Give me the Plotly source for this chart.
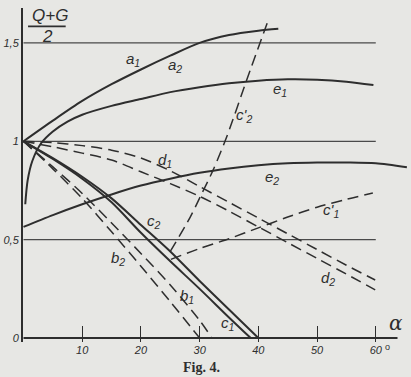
import plotly.graph_objects as go

# ---------------- data (alpha in degrees, value (Q+G)/2) ----------------
a_x = [0, 5, 10, 15, 20, 25, 30, 35, 40, 43.4]
a_y = [1.0, 1.105, 1.205, 1.29, 1.365, 1.435, 1.5, 1.54, 1.562, 1.572]

e1_x = [0.3, 0.7, 1.5, 3, 5, 7.5, 10, 15, 20, 25, 30, 35, 40, 45, 50, 55, 59.6]
e1_y = [0.68, 0.8, 0.9, 0.99, 1.05, 1.1, 1.135, 1.18, 1.215, 1.25, 1.275, 1.295, 1.308, 1.315, 1.313, 1.303, 1.286]

e2_x = [0, 5, 10, 15, 20, 25, 30, 35, 40, 45, 50, 55, 60, 65.3]
e2_y = [0.565, 0.625, 0.68, 0.73, 0.775, 0.81, 0.84, 0.862, 0.878, 0.888, 0.892, 0.892, 0.888, 0.868]

c1_x = [0, 5, 10, 15, 20, 25, 30, 35, 38.7]
c1_y = [1.0, 0.91, 0.81, 0.69, 0.535, 0.39, 0.25, 0.105, 0.0]

c2_x = [0, 5, 10, 15, 20, 25, 30, 35, 40]
c2_y = [1.0, 0.915, 0.82, 0.71, 0.575, 0.44, 0.29, 0.145, 0.0]

b1_x = [0, 5, 10, 15, 20, 25, 30, 32.1]
b1_y = [1.0, 0.87, 0.735, 0.585, 0.43, 0.27, 0.09, 0.0]

b2_x = [0, 5, 10, 15, 20, 25, 30]
b2_y = [1.0, 0.86, 0.71, 0.54, 0.365, 0.185, 0.0]

d1_x = [0, 5, 10, 15, 20, 25, 30, 35, 40, 45, 50, 55, 59.9]
d1_y = [1.0, 0.993, 0.978, 0.955, 0.915, 0.85, 0.77, 0.69, 0.61, 0.53, 0.45, 0.37, 0.295]

d2_x = [0, 5, 10, 15, 20, 25, 30, 35, 40, 45, 50, 55, 59.9]
d2_y = [1.0, 0.972, 0.94, 0.905, 0.845, 0.785, 0.72, 0.645, 0.565, 0.485, 0.405, 0.325, 0.245]

c1p_x = [25.1, 30, 35, 40, 45, 50, 55, 59.5]
c1p_y = [0.40, 0.455, 0.505, 0.56, 0.615, 0.665, 0.705, 0.737]

c2p_x = [25.0, 28.4, 30.1, 32.3, 34.7, 38.0, 41.5]
c2p_y = [0.44, 0.615, 0.718, 0.854, 1.03, 1.31, 1.60]

grid_vals = [0.5, 1.0, 1.5]
grid_end = 60
axis_end = 63.7

x_ticks = [10, 20, 30, 40, 50, 60]
x_ticktext = ["10", "20", "30", "40", "50", "60"]
y_ticks = [0, 0.5, 1.0, 1.5]
y_ticktext = ["0", "0,5", "1", "1,5"]

labels = [
    ("a<sub>1</sub>", 18.7, 1.415),
    ("a<sub>2</sub>", 25.8, 1.385),
    ("e<sub>1</sub>", 43.7, 1.265),
    ("c'<sub>2</sub>", 37.6, 1.13),
    ("d<sub>1</sub>", 24.1, 0.905),
    ("e<sub>2</sub>", 42.3, 0.815),
    ("c'<sub>1</sub>", 52.3, 0.65),
    ("c<sub>2</sub>", 22.2, 0.59),
    ("b<sub>2</sub>", 16.1, 0.405),
    ("d<sub>2</sub>", 51.9, 0.305),
    ("b<sub>1</sub>", 27.9, 0.21),
    ("c<sub>1</sub>", 34.7, 0.075),
]

# ---------------- figure ----------------
INK = "#2e2e2e"
BG = "#e7e7e4"
fig = go.Figure()

for g in grid_vals:
    fig.add_trace(go.Scatter(x=[0, grid_end], y=[g, g], mode="lines",
                             line=dict(color="#4a4a4a", width=1.3),
                             hoverinfo="skip", showlegend=False))

solid = [(a_x, a_y), (e1_x, e1_y), (e2_x, e2_y), (c1_x, c1_y), (c2_x, c2_y)]
dashed = [(b1_x, b1_y), (b2_x, b2_y), (d1_x, d1_y), (d2_x, d2_y),
          (c1p_x, c1p_y), (c2p_x, c2p_y)]

for xs, ys in solid:
    fig.add_trace(go.Scatter(x=xs, y=ys, mode="lines",
                             line=dict(color=INK, width=2, shape="spline", smoothing=0.8),
                             hoverinfo="skip", showlegend=False))
for xs, ys in dashed:
    fig.add_trace(go.Scatter(x=xs, y=ys, mode="lines",
                             line=dict(color=INK, width=1.5, dash="11px,6px",
                                       shape="spline", smoothing=0.8),
                             hoverinfo="skip", showlegend=False))

for txt, x, y in labels:
    fig.add_annotation(x=x, y=y, text=txt, showarrow=False,
                       font=dict(family="Liberation Sans", size=15, color=INK, style="italic"))

# x axis line (ends before plot edge)
fig.add_trace(go.Scatter(x=[0, axis_end], y=[0, 0], mode="lines",
                         line=dict(color=INK, width=2),
                         hoverinfo="skip", showlegend=False))

# alpha label and degree sign
fig.add_annotation(x=axis_end, y=0, xref="x", yref="y", text="α", showarrow=False,
                   xanchor="center", yanchor="bottom", yshift=1, xshift=-2,
                   font=dict(family="DejaVu Serif", size=20, color=INK, style="italic"))
fig.add_annotation(x=60, y=0, xref="x", yref="y", text="o", showarrow=False,
                   xanchor="left", yanchor="top", xshift=7, yshift=-2,
                   font=dict(family="Liberation Sans", size=9, color=INK))

# y-axis title as fraction
fig.add_annotation(x=0, y=1.0, xref="paper", yref="paper", text="Q+G",
                   showarrow=False, xanchor="left", yanchor="top", xshift=7, yshift=4,
                   font=dict(family="Liberation Sans", size=17, color=INK, style="italic"))
fig.add_annotation(x=0, y=1.0, xref="paper", yref="paper", text="2",
                   showarrow=False, xanchor="left", yanchor="top", xshift=17, yshift=-17,
                   font=dict(family="Liberation Sans", size=17, color=INK, style="italic"))
fig.add_shape(type="line", xref="paper", yref="paper", x0=0.013, x1=0.11, y0=0.945, y1=0.945,
              line=dict(color=INK, width=1.6))

# caption
fig.add_annotation(x=0.46, y=0, xref="paper", yref="paper", text="<b>Fig. 4.</b>",
                   showarrow=False, yanchor="top", yshift=-16,
                   font=dict(family="Liberation Serif", size=14, color=INK))

fig.update_layout(
    width=411, height=377,
    margin=dict(l=23, r=0, t=8, b=35),
    paper_bgcolor=BG, plot_bgcolor=BG,
    showlegend=False,
    xaxis=dict(range=[-0.085, 66.0], showgrid=False, zeroline=False, showline=False,
               tickvals=x_ticks, ticktext=x_ticktext, ticks="inside", ticklen=16,
               tickwidth=1.3, tickcolor=INK, ticklabelstandoff=0,
               tickfont=dict(family="Liberation Sans", size=11, color=INK, style="italic")),
    yaxis=dict(range=[-0.02, 1.6775], showgrid=False, zeroline=False, showline=True,
               linecolor=INK, linewidth=2,
               tickvals=y_ticks, ticktext=y_ticktext, ticks="",
               tickfont=dict(family="Liberation Sans", size=11, color=INK, style="italic")),
)

fig.write_html("out.html")
